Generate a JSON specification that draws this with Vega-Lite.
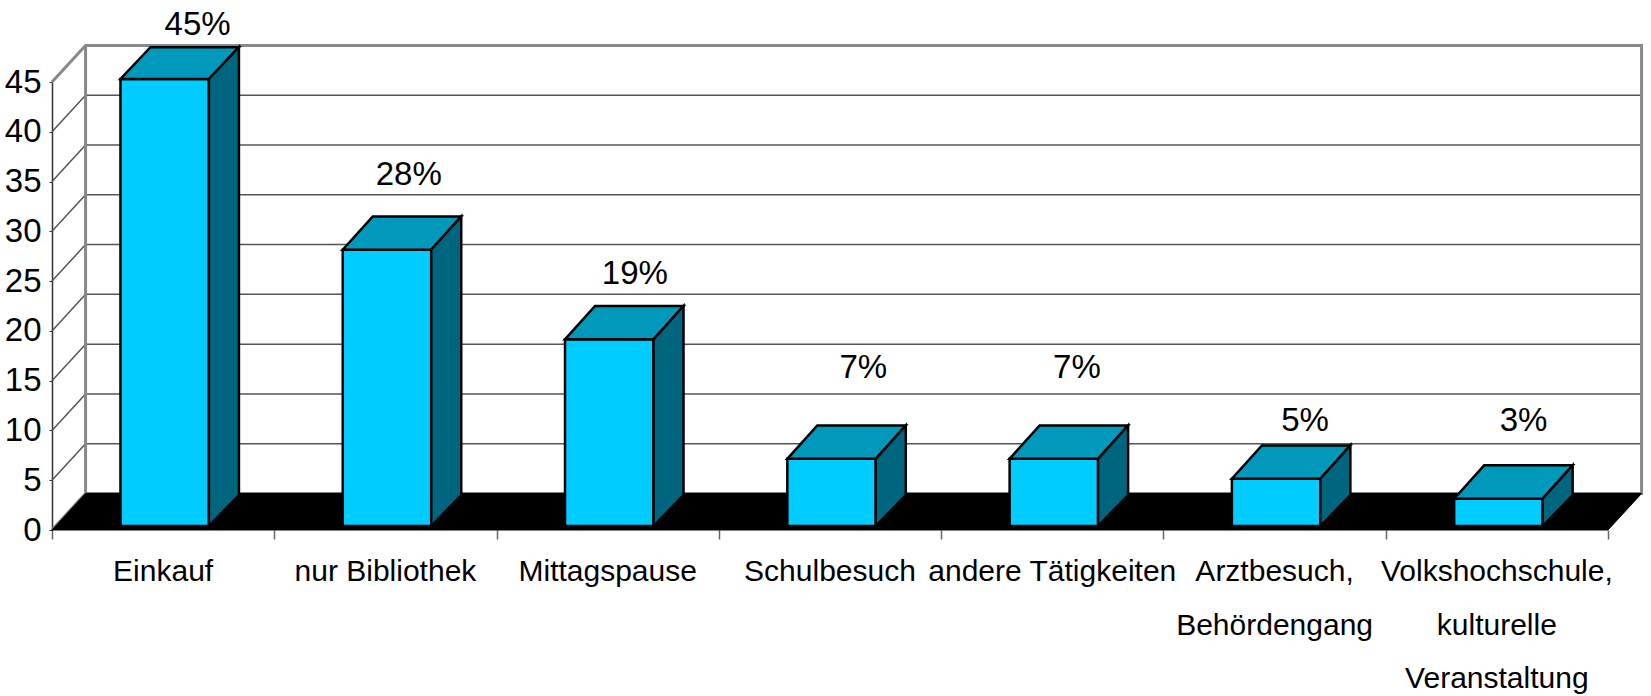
{"$schema":"https://vega.github.io/schema/vega-lite/v6.json","width":1556,"height":448,"autosize":{"type":"none"},"padding":{"left":52,"top":82,"right":43,"bottom":166},"background":"white","view":{"stroke":null},
"config":{"font":"Liberation Sans","text":{"font":"Liberation Sans"}},
"datasets":{
"bars":[
{"category":["Einkauf"],"slot":0.5,"value":45,"label":"45%","labelX":0.655,"labelY":50.7},
{"category":["nur Bibliothek"],"slot":1.5,"value":28,"label":"28%","labelX":1.605,"labelY":35.7},
{"category":["Mittagspause"],"slot":2.5,"value":19,"label":"19%","labelX":2.622,"labelY":25.7},
{"category":["Schulbesuch"],"slot":3.5,"value":7,"label":"7%","labelX":3.65,"labelY":16.3},
{"category":["andere Tätigkeiten"],"slot":4.5,"value":7,"label":"7%","labelX":4.611,"labelY":16.3},
{"category":["Arztbesuch,","Behördengang"],"slot":5.5,"value":5,"label":"5%","labelX":5.637,"labelY":10.95},
{"category":["Volkshochschule,","kulturelle","Veranstaltung"],"slot":6.5,"value":3,"label":"3%","labelX":6.62,"labelY":10.95}],
"floor":[{"n":1,"x":0,"y":0},{"n":2,"x":7,"y":0},{"n":3,"x":7.151,"y":3.67},{"n":4,"x":0.151,"y":3.67}],
"wall":[
{"line":"g5","kind":"grid","n":1,"x":0,"y":5},{"line":"g5","kind":"grid","n":2,"x":0.151,"y":8.67},{"line":"g5","kind":"grid","n":3,"x":7.151,"y":8.67},
{"line":"g10","kind":"grid","n":1,"x":0,"y":10},{"line":"g10","kind":"grid","n":2,"x":0.151,"y":13.67},{"line":"g10","kind":"grid","n":3,"x":7.151,"y":13.67},
{"line":"g15","kind":"grid","n":1,"x":0,"y":15},{"line":"g15","kind":"grid","n":2,"x":0.151,"y":18.67},{"line":"g15","kind":"grid","n":3,"x":7.151,"y":18.67},
{"line":"g20","kind":"grid","n":1,"x":0,"y":20},{"line":"g20","kind":"grid","n":2,"x":0.151,"y":23.67},{"line":"g20","kind":"grid","n":3,"x":7.151,"y":23.67},
{"line":"g25","kind":"grid","n":1,"x":0,"y":25},{"line":"g25","kind":"grid","n":2,"x":0.151,"y":28.67},{"line":"g25","kind":"grid","n":3,"x":7.151,"y":28.67},
{"line":"g30","kind":"grid","n":1,"x":0,"y":30},{"line":"g30","kind":"grid","n":2,"x":0.151,"y":33.67},{"line":"g30","kind":"grid","n":3,"x":7.151,"y":33.67},
{"line":"g35","kind":"grid","n":1,"x":0,"y":35},{"line":"g35","kind":"grid","n":2,"x":0.151,"y":38.67},{"line":"g35","kind":"grid","n":3,"x":7.151,"y":38.67},
{"line":"g40","kind":"grid","n":1,"x":0,"y":40},{"line":"g40","kind":"grid","n":2,"x":0.151,"y":43.67},{"line":"g40","kind":"grid","n":3,"x":7.151,"y":43.67},
{"line":"frame","kind":"edge","n":1,"x":0,"y":45},{"line":"frame","kind":"edge","n":2,"x":0.151,"y":48.67},{"line":"frame","kind":"edge","n":3,"x":7.151,"y":48.67},{"line":"frame","kind":"edge","n":4,"x":7.151,"y":3.67},{"line":"frame","kind":"edge","n":5,"x":0.151,"y":3.67},{"line":"frame","kind":"edge","n":6,"x":0,"y":0},
{"line":"back","kind":"edge","n":1,"x":0.151,"y":3.67},{"line":"back","kind":"edge","n":2,"x":0.151,"y":48.67}],
"faces":[
{"bar":0,"face":"front","n":1,"x":0.308,"y":0.4},{"bar":0,"face":"front","n":2,"x":0.706,"y":0.4},{"bar":0,"face":"front","n":3,"x":0.706,"y":45.3},{"bar":0,"face":"front","n":4,"x":0.308,"y":45.3},
{"bar":0,"face":"top","n":1,"x":0.308,"y":45.3},{"bar":0,"face":"top","n":2,"x":0.706,"y":45.3},{"bar":0,"face":"top","n":3,"x":0.841,"y":48.5},{"bar":0,"face":"top","n":4,"x":0.443,"y":48.5},
{"bar":0,"face":"side","n":1,"x":0.706,"y":0.4},{"bar":0,"face":"side","n":2,"x":0.841,"y":3.51},{"bar":0,"face":"side","n":3,"x":0.841,"y":48.5},{"bar":0,"face":"side","n":4,"x":0.706,"y":45.3},
{"bar":1,"face":"front","n":1,"x":1.308,"y":0.4},{"bar":1,"face":"front","n":2,"x":1.706,"y":0.4},{"bar":1,"face":"front","n":3,"x":1.706,"y":28.15},{"bar":1,"face":"front","n":4,"x":1.308,"y":28.15},
{"bar":1,"face":"top","n":1,"x":1.308,"y":28.15},{"bar":1,"face":"top","n":2,"x":1.706,"y":28.15},{"bar":1,"face":"top","n":3,"x":1.841,"y":31.5},{"bar":1,"face":"top","n":4,"x":1.443,"y":31.5},
{"bar":1,"face":"side","n":1,"x":1.706,"y":0.4},{"bar":1,"face":"side","n":2,"x":1.841,"y":3.51},{"bar":1,"face":"side","n":3,"x":1.841,"y":31.5},{"bar":1,"face":"side","n":4,"x":1.706,"y":28.15},
{"bar":2,"face":"front","n":1,"x":2.308,"y":0.4},{"bar":2,"face":"front","n":2,"x":2.706,"y":0.4},{"bar":2,"face":"front","n":3,"x":2.706,"y":19.15},{"bar":2,"face":"front","n":4,"x":2.308,"y":19.15},
{"bar":2,"face":"top","n":1,"x":2.308,"y":19.15},{"bar":2,"face":"top","n":2,"x":2.706,"y":19.15},{"bar":2,"face":"top","n":3,"x":2.841,"y":22.5},{"bar":2,"face":"top","n":4,"x":2.443,"y":22.5},
{"bar":2,"face":"side","n":1,"x":2.706,"y":0.4},{"bar":2,"face":"side","n":2,"x":2.841,"y":3.51},{"bar":2,"face":"side","n":3,"x":2.841,"y":22.5},{"bar":2,"face":"side","n":4,"x":2.706,"y":19.15},
{"bar":3,"face":"front","n":1,"x":3.308,"y":0.4},{"bar":3,"face":"front","n":2,"x":3.706,"y":0.4},{"bar":3,"face":"front","n":3,"x":3.706,"y":7.15},{"bar":3,"face":"front","n":4,"x":3.308,"y":7.15},
{"bar":3,"face":"top","n":1,"x":3.308,"y":7.15},{"bar":3,"face":"top","n":2,"x":3.706,"y":7.15},{"bar":3,"face":"top","n":3,"x":3.841,"y":10.5},{"bar":3,"face":"top","n":4,"x":3.443,"y":10.5},
{"bar":3,"face":"side","n":1,"x":3.706,"y":0.4},{"bar":3,"face":"side","n":2,"x":3.841,"y":3.51},{"bar":3,"face":"side","n":3,"x":3.841,"y":10.5},{"bar":3,"face":"side","n":4,"x":3.706,"y":7.15},
{"bar":4,"face":"front","n":1,"x":4.308,"y":0.4},{"bar":4,"face":"front","n":2,"x":4.706,"y":0.4},{"bar":4,"face":"front","n":3,"x":4.706,"y":7.15},{"bar":4,"face":"front","n":4,"x":4.308,"y":7.15},
{"bar":4,"face":"top","n":1,"x":4.308,"y":7.15},{"bar":4,"face":"top","n":2,"x":4.706,"y":7.15},{"bar":4,"face":"top","n":3,"x":4.841,"y":10.5},{"bar":4,"face":"top","n":4,"x":4.443,"y":10.5},
{"bar":4,"face":"side","n":1,"x":4.706,"y":0.4},{"bar":4,"face":"side","n":2,"x":4.841,"y":3.51},{"bar":4,"face":"side","n":3,"x":4.841,"y":10.5},{"bar":4,"face":"side","n":4,"x":4.706,"y":7.15},
{"bar":5,"face":"front","n":1,"x":5.308,"y":0.4},{"bar":5,"face":"front","n":2,"x":5.706,"y":0.4},{"bar":5,"face":"front","n":3,"x":5.706,"y":5.15},{"bar":5,"face":"front","n":4,"x":5.308,"y":5.15},
{"bar":5,"face":"top","n":1,"x":5.308,"y":5.15},{"bar":5,"face":"top","n":2,"x":5.706,"y":5.15},{"bar":5,"face":"top","n":3,"x":5.841,"y":8.5},{"bar":5,"face":"top","n":4,"x":5.443,"y":8.5},
{"bar":5,"face":"side","n":1,"x":5.706,"y":0.4},{"bar":5,"face":"side","n":2,"x":5.841,"y":3.51},{"bar":5,"face":"side","n":3,"x":5.841,"y":8.5},{"bar":5,"face":"side","n":4,"x":5.706,"y":5.15},
{"bar":6,"face":"front","n":1,"x":6.308,"y":0.4},{"bar":6,"face":"front","n":2,"x":6.706,"y":0.4},{"bar":6,"face":"front","n":3,"x":6.706,"y":3.15},{"bar":6,"face":"front","n":4,"x":6.308,"y":3.15},
{"bar":6,"face":"top","n":1,"x":6.308,"y":3.15},{"bar":6,"face":"top","n":2,"x":6.706,"y":3.15},{"bar":6,"face":"top","n":3,"x":6.841,"y":6.5},{"bar":6,"face":"top","n":4,"x":6.443,"y":6.5},
{"bar":6,"face":"side","n":1,"x":6.706,"y":0.4},{"bar":6,"face":"side","n":2,"x":6.841,"y":3.51},{"bar":6,"face":"side","n":3,"x":6.841,"y":6.5},{"bar":6,"face":"side","n":4,"x":6.706,"y":3.15}]
},
"layer":[
{"data":{"name":"wall"},"mark":{"type":"line","strokeJoin":"miter"},"encoding":{
"x":{"field":"x","type":"quantitative","scale":{"domain":[0,7],"nice":false},"axis":{"title":null,"values":[0,1,2,3,4,5,6,7],"labels":false,"grid":false,"domain":false,"tickColor":"#666666","tickSize":9,"tickWidth":1.5}},
"y":{"field":"y","type":"quantitative","scale":{"domain":[0,45],"nice":false},"axis":{"title":null,"values":[0,5,10,15,20,25,30,35,40,45],"grid":false,"domainColor":"#333333","domainWidth":1.5,"tickColor":"#333333","tickSize":3,"labelFont":"Liberation Sans","labelFontSize":33,"labelColor":"#000000","labelPadding":8,"labelOverlap":false,"labelFlush":false,"labelBound":false}},
"detail":{"field":"line"},"order":{"field":"n"},
"stroke":{"field":"kind","type":"nominal","scale":{"domain":["grid","edge"],"range":["#555555","#888888"]},"legend":null},
"strokeWidth":{"field":"kind","type":"nominal","scale":{"domain":["grid","edge"],"range":[1.5,3]},"legend":null}}},
{"data":{"name":"floor"},"mark":{"type":"line","interpolate":"linear-closed","fill":"#000000","stroke":"#000000","strokeWidth":1},"encoding":{
"x":{"field":"x","type":"quantitative"},"y":{"field":"y","type":"quantitative"},"order":{"field":"n"}}},
{"data":{"name":"faces"},"mark":{"type":"line","interpolate":"linear-closed","stroke":"#000000","strokeWidth":2.5,"strokeJoin":"miter"},"encoding":{
"x":{"field":"x","type":"quantitative"},"y":{"field":"y","type":"quantitative"},
"detail":{"field":"bar"},"order":{"field":"n"},
"fill":{"field":"face","type":"nominal","scale":{"domain":["front","top","side"],"range":["#00CCFF","#0099BB","#006680"]},"legend":null}}},
{"data":{"name":"bars"},"mark":{"type":"text","fontSize":33,"font":"Liberation Sans","baseline":"middle","align":"center","color":"#000000"},"encoding":{
"x":{"field":"labelX","type":"quantitative"},"y":{"field":"labelY","type":"quantitative"},"text":{"field":"label"}}},
{"data":{"name":"bars"},"mark":{"type":"text","fontSize":30,"font":"Liberation Sans","baseline":"alphabetic","align":"center","color":"#000000","dy":51,"lineHeight":53.5},"encoding":{
"x":{"field":"slot","type":"quantitative"},"y":{"datum":0},"text":{"field":"category"}}}
]}
